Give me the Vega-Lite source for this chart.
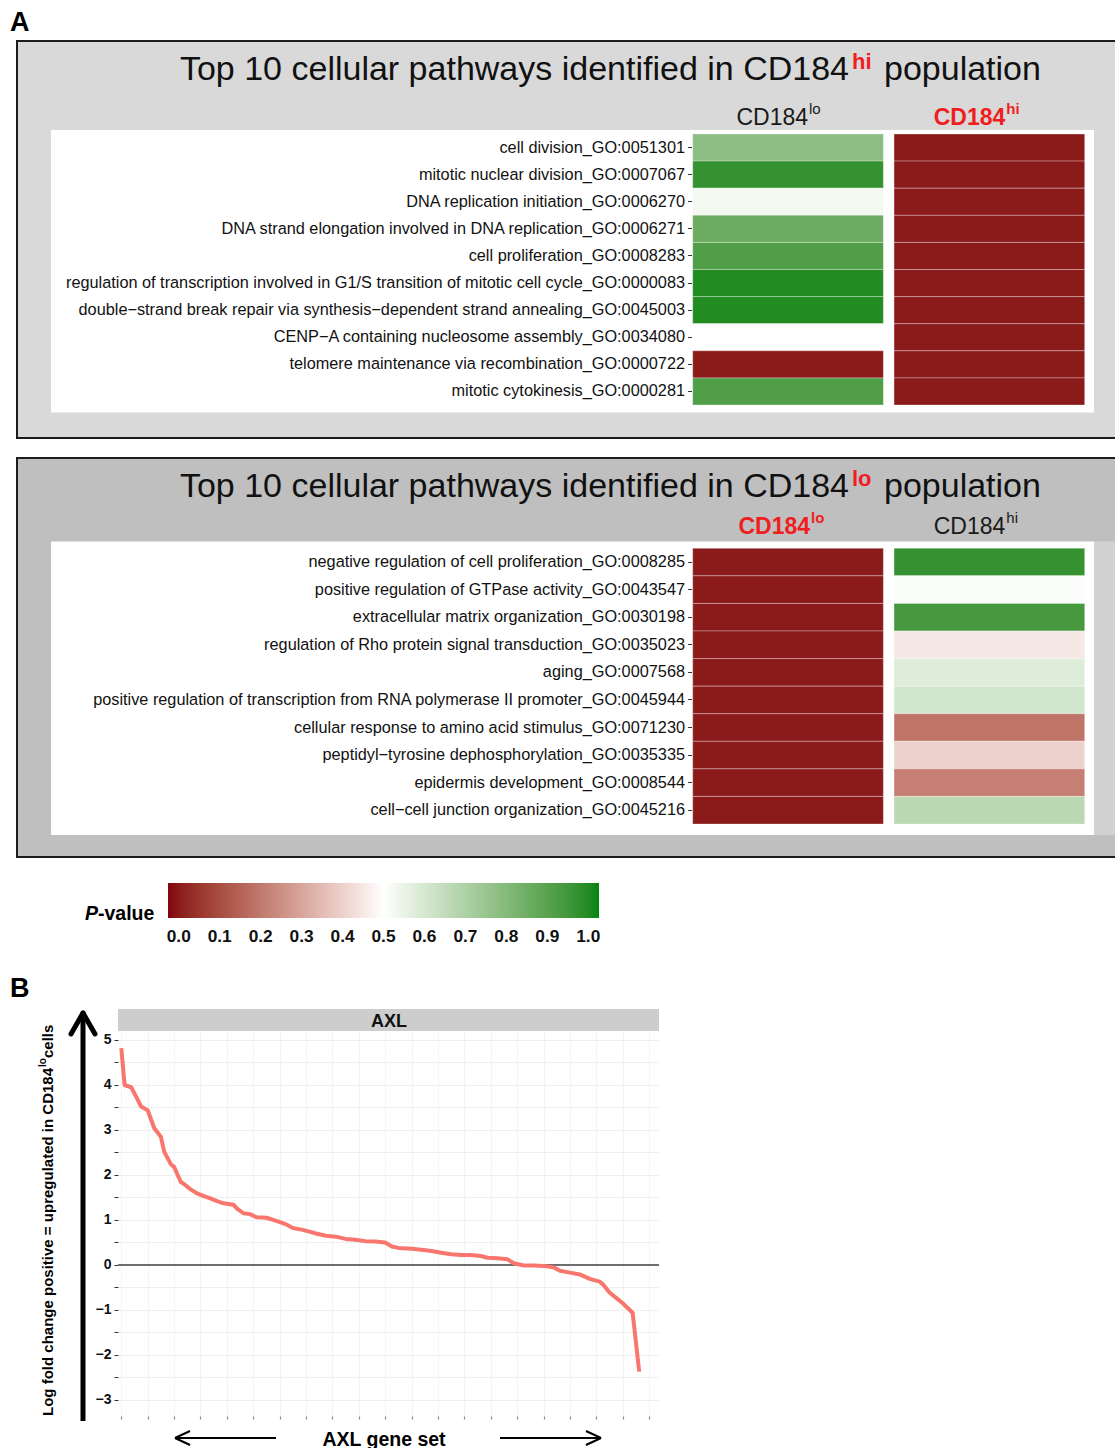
{
  "$schema": "https://vega.github.io/schema/vega-lite/v6.json",
  "width": 1115,
  "height": 1448,
  "autosize": {"type": "none"},
  "padding": 0,
  "background": "#ffffff",
  "config": {"font": "Liberation Sans", "view": {"stroke": null}, "legend": {"gradientHorizontalMaxLength": 800}},
  "data": {"values": [{}]},
  "resolve": {"scale": {"x": "independent", "y": "independent"}},
  "layer": [
    {"mark": {"type": "rect", "fill": "#d9d9d9", "stroke": "#1c1c1c", "strokeWidth": 2}, "encoding": {"x": {"value": 17}, "x2": {"value": 1118}, "y": {"value": 41}, "y2": {"value": 438}}},
    {"mark": {"type": "rect", "fill": "#ffffff"}, "encoding": {"x": {"value": 51}, "x2": {"value": 1094}, "y": {"value": 130}, "y2": {"value": 412.5}}},
    {"mark": {"type": "rect", "fill": "#bfbfbf", "stroke": "#1c1c1c", "strokeWidth": 2}, "encoding": {"x": {"value": 17}, "x2": {"value": 1118}, "y": {"value": 458}, "y2": {"value": 857}}},
    {"mark": {"type": "rect", "fill": "#d2d2d2"}, "encoding": {"x": {"value": 1094}, "x2": {"value": 1116}, "y": {"value": 541.5}, "y2": {"value": 835}}},
    {"mark": {"type": "rect", "fill": "#ffffff"}, "encoding": {"x": {"value": 51}, "x2": {"value": 1094}, "y": {"value": 541.5}, "y2": {"value": 835}}},
    {"mark": {"type": "text", "fontSize": 27, "fontWeight": "bold", "align": "left", "baseline": "alphabetic", "color": "#000"}, "encoding": {"x": {"value": 10}, "y": {"value": 31}, "text": {"value": "A"}}},
    {"mark": {"type": "text", "fontSize": 34, "align": "right", "baseline": "alphabetic", "color": "#111"}, "encoding": {"x": {"value": 849}, "y": {"value": 80}, "text": {"value": "Top 10 cellular pathways identified in CD184"}}},
    {"mark": {"type": "text", "fontSize": 22, "fontWeight": "bold", "align": "left", "baseline": "alphabetic", "color": "#f01e1e"}, "encoding": {"x": {"value": 852}, "y": {"value": 69}, "text": {"value": "hi"}}},
    {"mark": {"type": "text", "fontSize": 34, "align": "left", "baseline": "alphabetic", "color": "#111"}, "encoding": {"x": {"value": 884}, "y": {"value": 80}, "text": {"value": "population"}}},
    {"mark": {"type": "text", "fontSize": 34, "align": "right", "baseline": "alphabetic", "color": "#111"}, "encoding": {"x": {"value": 849}, "y": {"value": 497}, "text": {"value": "Top 10 cellular pathways identified in CD184"}}},
    {"mark": {"type": "text", "fontSize": 22, "fontWeight": "bold", "align": "left", "baseline": "alphabetic", "color": "#f01e1e"}, "encoding": {"x": {"value": 852}, "y": {"value": 486}, "text": {"value": "lo"}}},
    {"mark": {"type": "text", "fontSize": 34, "align": "left", "baseline": "alphabetic", "color": "#111"}, "encoding": {"x": {"value": 884}, "y": {"value": 497}, "text": {"value": "population"}}},
    {"mark": {"type": "text", "fontSize": 19.5, "fontWeight": "bold", "fontStyle": "italic", "align": "left", "baseline": "alphabetic", "color": "#000"}, "encoding": {"x": {"value": 85}, "y": {"value": 920}, "text": {"value": "P"}}},
    {"mark": {"type": "text", "fontSize": 19.5, "fontWeight": "bold", "align": "left", "baseline": "alphabetic", "color": "#000"}, "encoding": {"x": {"value": 98}, "y": {"value": 920}, "text": {"value": "-value"}}},
    {"mark": {"type": "text", "fontSize": 27, "fontWeight": "bold", "align": "left", "baseline": "alphabetic", "color": "#000"}, "encoding": {"x": {"value": 10}, "y": {"value": 997}, "text": {"value": "B"}}},
    {"mark": {"type": "rect", "fill": "#cdcdcd"}, "encoding": {"x": {"value": 118}, "x2": {"value": 659}, "y": {"value": 1009}, "y2": {"value": 1031}}},
    {"mark": {"type": "text", "fontSize": 18, "fontWeight": "bold", "align": "center", "baseline": "alphabetic", "color": "#111"}, "encoding": {"x": {"value": 389}, "y": {"value": 1027}, "text": {"value": "AXL"}}},
    {"mark": {"type": "text", "fontSize": 15, "fontWeight": "bold", "align": "right", "baseline": "alphabetic", "angle": 270, "color": "#000"}, "encoding": {"x": {"value": 53}, "y": {"value": 1068}, "text": {"value": "Log fold change positive = upregulated in CD184"}}},
    {"mark": {"type": "text", "fontSize": 10, "fontWeight": "bold", "align": "left", "baseline": "alphabetic", "angle": 270, "color": "#000"}, "encoding": {"x": {"value": 46}, "y": {"value": 1067}, "text": {"value": "lo"}}},
    {"mark": {"type": "text", "fontSize": 15, "fontWeight": "bold", "align": "left", "baseline": "alphabetic", "angle": 270, "color": "#000"}, "encoding": {"x": {"value": 53}, "y": {"value": 1058}, "text": {"value": " cells"}}},
    {"mark": {"type": "rule", "color": "#000", "strokeWidth": 5}, "encoding": {"x": {"value": 83}, "x2": {"value": 83}, "y": {"value": 1421}, "y2": {"value": 1014}}},
    {"mark": {"type": "rule", "color": "#000", "strokeWidth": 5, "strokeCap": "round"}, "encoding": {"x": {"value": 83}, "x2": {"value": 71}, "y": {"value": 1013}, "y2": {"value": 1034}}},
    {"mark": {"type": "rule", "color": "#000", "strokeWidth": 5, "strokeCap": "round"}, "encoding": {"x": {"value": 83}, "x2": {"value": 95}, "y": {"value": 1013}, "y2": {"value": 1034}}},
    {"mark": {"type": "rule", "color": "#000", "strokeWidth": 2}, "encoding": {"x": {"value": 175}, "x2": {"value": 276}, "y": {"value": 1438}, "y2": {"value": 1438}}},
    {"mark": {"type": "rule", "color": "#000", "strokeWidth": 2}, "encoding": {"x": {"value": 175}, "x2": {"value": 190}, "y": {"value": 1438}, "y2": {"value": 1431}}},
    {"mark": {"type": "rule", "color": "#000", "strokeWidth": 2}, "encoding": {"x": {"value": 175}, "x2": {"value": 190}, "y": {"value": 1438}, "y2": {"value": 1445}}},
    {"mark": {"type": "rule", "color": "#000", "strokeWidth": 2}, "encoding": {"x": {"value": 500}, "x2": {"value": 601}, "y": {"value": 1438}, "y2": {"value": 1438}}},
    {"mark": {"type": "rule", "color": "#000", "strokeWidth": 2}, "encoding": {"x": {"value": 601}, "x2": {"value": 586}, "y": {"value": 1438}, "y2": {"value": 1431}}},
    {"mark": {"type": "rule", "color": "#000", "strokeWidth": 2}, "encoding": {"x": {"value": 601}, "x2": {"value": 586}, "y": {"value": 1438}, "y2": {"value": 1445}}},
    {
      "data": {"values": [
        {"pathway": "cell division_GO:0051301", "group": "CD184lo", "p": 0.78},
        {"pathway": "cell division_GO:0051301", "group": "CD184hi", "p": 0.0},
        {"pathway": "mitotic nuclear division_GO:0007067", "group": "CD184lo", "p": 0.97},
        {"pathway": "mitotic nuclear division_GO:0007067", "group": "CD184hi", "p": 0.0},
        {"pathway": "DNA replication initiation_GO:0006270", "group": "CD184lo", "p": 0.53},
        {"pathway": "DNA replication initiation_GO:0006270", "group": "CD184hi", "p": 0.0},
        {"pathway": "DNA strand elongation involved in DNA replication_GO:0006271", "group": "CD184lo", "p": 0.86},
        {"pathway": "DNA strand elongation involved in DNA replication_GO:0006271", "group": "CD184hi", "p": 0.0},
        {"pathway": "cell proliferation_GO:0008283", "group": "CD184lo", "p": 0.92},
        {"pathway": "cell proliferation_GO:0008283", "group": "CD184hi", "p": 0.0},
        {"pathway": "regulation of transcription involved in G1/S transition of mitotic cell cycle_GO:0000083", "group": "CD184lo", "p": 1.0},
        {"pathway": "regulation of transcription involved in G1/S transition of mitotic cell cycle_GO:0000083", "group": "CD184hi", "p": 0.0},
        {"pathway": "double−strand break repair via synthesis−dependent strand annealing_GO:0045003", "group": "CD184lo", "p": 1.0},
        {"pathway": "double−strand break repair via synthesis−dependent strand annealing_GO:0045003", "group": "CD184hi", "p": 0.0},
        {"pathway": "CENP−A containing nucleosome assembly_GO:0034080", "group": "CD184lo", "p": 0.5},
        {"pathway": "CENP−A containing nucleosome assembly_GO:0034080", "group": "CD184hi", "p": 0.0},
        {"pathway": "telomere maintenance via recombination_GO:0000722", "group": "CD184lo", "p": 0.0},
        {"pathway": "telomere maintenance via recombination_GO:0000722", "group": "CD184hi", "p": 0.0},
        {"pathway": "mitotic cytokinesis_GO:0000281", "group": "CD184lo", "p": 0.92},
        {"pathway": "mitotic cytokinesis_GO:0000281", "group": "CD184hi", "p": 0.0}
      ]},
      "layer": [
        {
          "mark": {"type": "rect", "stroke": "#ffffff", "strokeOpacity": 0.3, "strokeWidth": 1},
          "encoding": {
            "x": {"field": "group", "type": "nominal", "scale": {"domain": ["CD184lo", "CD184hi"], "range": [692.7, 1084.7], "paddingInner": 0.053, "paddingOuter": 0}, "axis": null},
            "y": {"field": "pathway", "type": "nominal", "sort": null, "scale": {"range": [134, 405], "paddingInner": 0, "paddingOuter": 0}, "axis": {"orient": "left", "offset": -691.5, "zindex": 1, "title": null, "domain": false, "grid": false, "ticks": true, "tickSize": 4, "tickColor": "#333333", "tickWidth": 1, "labelFont": "Liberation Sans", "labelFontSize": 16.3, "labelColor": "#111111", "labelPadding": 3, "labelLimit": 900}},
            "color": {"field": "p", "type": "quantitative", "scale": {"type": "linear", "domain": [-0.0263, 0.5, 1.0263], "range": ["#830310", "#ffffff", "#038512"], "interpolate": "lab"}, "legend": {"type": "gradient", "orient": "none", "legendX": 168, "legendY": 883, "direction": "horizontal", "gradientLength": 431, "gradientThickness": 35, "title": null, "values": [0, 0.1, 0.2, 0.3, 0.4, 0.5, 0.6, 0.7, 0.8, 0.9, 1], "format": ".1f", "labelFont": "Liberation Sans", "labelFontSize": 17.3, "labelFontWeight": "bold", "labelColor": "#111111", "labelOffset": 10, "labelOverlap": false, "gradientStrokeWidth": 0, "padding": 0}}
          }
        },
        {"data": {"values": [{}]}, "mark": {"type": "text", "fontSize": 23, "align": "right", "baseline": "alphabetic", "dx": 20, "color": "#1a1a1a"}, "encoding": {"x": {"datum": "CD184lo", "type": "nominal"}, "y": {"value": 125}, "text": {"value": "CD184"}}},
        {"data": {"values": [{}]}, "mark": {"type": "text", "fontSize": 15, "align": "left", "baseline": "alphabetic", "dx": 21, "color": "#1a1a1a"}, "encoding": {"x": {"datum": "CD184lo", "type": "nominal"}, "y": {"value": 114}, "text": {"value": "lo"}}},
        {"data": {"values": [{}]}, "mark": {"type": "text", "fontSize": 23, "fontWeight": "bold", "align": "right", "baseline": "alphabetic", "dx": 16, "color": "#f01e1e"}, "encoding": {"x": {"datum": "CD184hi", "type": "nominal"}, "y": {"value": 125}, "text": {"value": "CD184"}}},
        {"data": {"values": [{}]}, "mark": {"type": "text", "fontSize": 15, "fontWeight": "bold", "align": "left", "baseline": "alphabetic", "dx": 17, "color": "#f01e1e"}, "encoding": {"x": {"datum": "CD184hi", "type": "nominal"}, "y": {"value": 114}, "text": {"value": "hi"}}}
      ]
    },
    {
      "data": {"values": [
        {"pathway": "negative regulation of cell proliferation_GO:0008285", "group": "CD184lo", "p": 0.0},
        {"pathway": "negative regulation of cell proliferation_GO:0008285", "group": "CD184hi", "p": 0.97},
        {"pathway": "positive regulation of GTPase activity_GO:0043547", "group": "CD184lo", "p": 0.0},
        {"pathway": "positive regulation of GTPase activity_GO:0043547", "group": "CD184hi", "p": 0.51},
        {"pathway": "extracellular matrix organization_GO:0030198", "group": "CD184lo", "p": 0.0},
        {"pathway": "extracellular matrix organization_GO:0030198", "group": "CD184hi", "p": 0.94},
        {"pathway": "regulation of Rho protein signal transduction_GO:0035023", "group": "CD184lo", "p": 0.0},
        {"pathway": "regulation of Rho protein signal transduction_GO:0035023", "group": "CD184hi", "p": 0.45},
        {"pathway": "aging_GO:0007568", "group": "CD184lo", "p": 0.0},
        {"pathway": "aging_GO:0007568", "group": "CD184hi", "p": 0.58},
        {"pathway": "positive regulation of transcription from RNA polymerase II promoter_GO:0045944", "group": "CD184lo", "p": 0.0},
        {"pathway": "positive regulation of transcription from RNA polymerase II promoter_GO:0045944", "group": "CD184hi", "p": 0.61},
        {"pathway": "cellular response to amino acid stimulus_GO:0071230", "group": "CD184lo", "p": 0.0},
        {"pathway": "cellular response to amino acid stimulus_GO:0071230", "group": "CD184hi", "p": 0.19},
        {"pathway": "peptidyl−tyrosine dephosphorylation_GO:0035335", "group": "CD184lo", "p": 0.0},
        {"pathway": "peptidyl−tyrosine dephosphorylation_GO:0035335", "group": "CD184hi", "p": 0.4},
        {"pathway": "epidermis development_GO:0008544", "group": "CD184lo", "p": 0.0},
        {"pathway": "epidermis development_GO:0008544", "group": "CD184hi", "p": 0.215},
        {"pathway": "cell−cell junction organization_GO:0045216", "group": "CD184lo", "p": 0.0},
        {"pathway": "cell−cell junction organization_GO:0045216", "group": "CD184hi", "p": 0.67}
      ]},
      "layer": [
        {
          "mark": {"type": "rect", "stroke": "#ffffff", "strokeOpacity": 0.3, "strokeWidth": 1},
          "encoding": {
            "x": {"field": "group", "type": "nominal", "scale": {"domain": ["CD184lo", "CD184hi"], "range": [692.7, 1084.7], "paddingInner": 0.053, "paddingOuter": 0}, "axis": null},
            "y": {"field": "pathway", "type": "nominal", "sort": null, "scale": {"range": [548.3, 824], "paddingInner": 0, "paddingOuter": 0}, "axis": {"orient": "left", "offset": -691.5, "zindex": 1, "title": null, "domain": false, "grid": false, "ticks": true, "tickSize": 4, "tickColor": "#333333", "tickWidth": 1, "labelFont": "Liberation Sans", "labelFontSize": 16.3, "labelColor": "#111111", "labelPadding": 3, "labelLimit": 900}},
            "color": {"field": "p", "type": "quantitative"}
          }
        },
        {"data": {"values": [{}]}, "mark": {"type": "text", "fontSize": 23, "fontWeight": "bold", "align": "right", "baseline": "alphabetic", "dx": 22, "color": "#f01e1e"}, "encoding": {"x": {"datum": "CD184lo", "type": "nominal"}, "y": {"value": 534}, "text": {"value": "CD184"}}},
        {"data": {"values": [{}]}, "mark": {"type": "text", "fontSize": 15, "fontWeight": "bold", "align": "left", "baseline": "alphabetic", "dx": 23, "color": "#f01e1e"}, "encoding": {"x": {"datum": "CD184lo", "type": "nominal"}, "y": {"value": 523}, "text": {"value": "lo"}}},
        {"data": {"values": [{}]}, "mark": {"type": "text", "fontSize": 23, "align": "right", "baseline": "alphabetic", "dx": 16, "color": "#1a1a1a"}, "encoding": {"x": {"datum": "CD184hi", "type": "nominal"}, "y": {"value": 534}, "text": {"value": "CD184"}}},
        {"data": {"values": [{}]}, "mark": {"type": "text", "fontSize": 15, "align": "left", "baseline": "alphabetic", "dx": 17, "color": "#1a1a1a"}, "encoding": {"x": {"datum": "CD184hi", "type": "nominal"}, "y": {"value": 523}, "text": {"value": "hi"}}}
      ]
    },
    {
      "data": {"values": [
        {"rank": 1, "lfc": 4.82}, {"rank": 2, "lfc": 4.0}, {"rank": 4, "lfc": 3.95}, {"rank": 6, "lfc": 3.67},
        {"rank": 7, "lfc": 3.52}, {"rank": 9, "lfc": 3.44}, {"rank": 11, "lfc": 3.04}, {"rank": 13, "lfc": 2.85},
        {"rank": 14, "lfc": 2.52}, {"rank": 16, "lfc": 2.24}, {"rank": 17, "lfc": 2.18}, {"rank": 19, "lfc": 1.85},
        {"rank": 20, "lfc": 1.8}, {"rank": 22, "lfc": 1.68}, {"rank": 24, "lfc": 1.59}, {"rank": 26, "lfc": 1.53},
        {"rank": 28, "lfc": 1.48}, {"rank": 30, "lfc": 1.42}, {"rank": 32, "lfc": 1.37}, {"rank": 35, "lfc": 1.34},
        {"rank": 36, "lfc": 1.26}, {"rank": 38, "lfc": 1.15}, {"rank": 40, "lfc": 1.13}, {"rank": 42, "lfc": 1.06},
        {"rank": 45, "lfc": 1.05}, {"rank": 48, "lfc": 0.98}, {"rank": 51, "lfc": 0.9}, {"rank": 53, "lfc": 0.82},
        {"rank": 56, "lfc": 0.78}, {"rank": 58, "lfc": 0.74}, {"rank": 60, "lfc": 0.7}, {"rank": 63, "lfc": 0.65},
        {"rank": 66, "lfc": 0.63}, {"rank": 69, "lfc": 0.58}, {"rank": 72, "lfc": 0.56}, {"rank": 75, "lfc": 0.53},
        {"rank": 78, "lfc": 0.52}, {"rank": 81, "lfc": 0.5}, {"rank": 83, "lfc": 0.41}, {"rank": 85, "lfc": 0.38},
        {"rank": 89, "lfc": 0.36}, {"rank": 92, "lfc": 0.34}, {"rank": 95, "lfc": 0.31}, {"rank": 98, "lfc": 0.27},
        {"rank": 101, "lfc": 0.24}, {"rank": 104, "lfc": 0.22}, {"rank": 107, "lfc": 0.22}, {"rank": 110, "lfc": 0.2},
        {"rank": 112, "lfc": 0.16}, {"rank": 115, "lfc": 0.15}, {"rank": 118, "lfc": 0.13}, {"rank": 120, "lfc": 0.04},
        {"rank": 123, "lfc": -0.01}, {"rank": 126, "lfc": -0.01}, {"rank": 129, "lfc": -0.02}, {"rank": 132, "lfc": -0.05},
        {"rank": 134, "lfc": -0.13}, {"rank": 137, "lfc": -0.17}, {"rank": 140, "lfc": -0.21}, {"rank": 143, "lfc": -0.31},
        {"rank": 146, "lfc": -0.37}, {"rank": 147, "lfc": -0.43}, {"rank": 149, "lfc": -0.61}, {"rank": 151, "lfc": -0.73},
        {"rank": 153, "lfc": -0.85}, {"rank": 156, "lfc": -1.06}, {"rank": 158, "lfc": -2.37}
      ]},
      "layer": [
        {"data": {"values": [{}]}, "mark": {"type": "rule", "color": "#6e6e6e", "strokeWidth": 1.8}, "encoding": {"x": {"datum": 0, "type": "quantitative"}, "x2": {"datum": 164}, "y": {"datum": 0, "type": "quantitative"}}},
        {
          "mark": {"type": "line", "color": "#f8766d", "strokeWidth": 4, "strokeJoin": "round"},
          "encoding": {
            "x": {"field": "rank", "type": "quantitative", "scale": {"domain": [0, 164], "range": [118, 659], "nice": false, "zero": false},
              "axis": {"orient": "top", "offset": -1419, "values": [1,2,3,4,5,6,7,8,9,10,11,12,13,14,15,16,17,18,19,20,21,22,23,24,25,26,27,28,29,30,31,32,33,34,35,36,37,38,39,40,41,42,43,44,45,46,47,48,49,50,51,52,53,54,55,56,57,58,59,60,61,62,63,64,65,66,67,68,69,70,71,72,73,74,75,76,77,78,79,80,81,82,83,84,85,86,87,88,89,90,91,92,93,94,95,96,97,98,99,100,101,102,103,104,105,106,107,108,109,110,111,112,113,114,115,116,117,118,119,120,121,122,123,124,125,126,127,128,129,130,131,132,133,134,135,136,137,138,139,140,141,142,143,144,145,146,147,148,149,150,151,152,153,154,155,156,157,158,159,160,161,162,163], "labels": false, "domain": false, "ticks": true, "tickSize": 3, "tickColor": "#8a8a8a", "tickWidth": 1.2, "grid": true, "gridColor": "#f1f1f1", "gridWidth": 0.8, "title": "AXL gene set", "titleFont": "Liberation Sans", "titleFontSize": 19.5, "titleFontWeight": "bold", "titleColor": "#000000", "titleX": 383.5, "titleY": 26, "titleAlign": "center", "titleBaseline": "alphabetic", "titleAngle": 0}},
            "y": {"field": "lfc", "type": "quantitative", "scale": {"domain": [-3.356, 5.2], "range": [1416, 1031], "nice": false, "zero": false},
              "axis": {"orient": "left", "offset": -118, "title": null, "domain": false, "values": [-3,-2.5,-2,-1.5,-1,-0.5,0,0.5,1,1.5,2,2.5,3,3.5,4,4.5,5], "format": ".0f", "labelExpr": "datum.value % 1 === 0 ? datum.label : ''", "labelFont": "Liberation Sans", "labelFontSize": 14, "labelFontWeight": "bold", "labelColor": "#111111", "labelPadding": 3, "tickColor": "#333333", "tickSize": 4, "grid": true, "gridColor": "#ebebeb", "gridWidth": 0.8}}
          }
        }
      ]
    }
  ]
}
